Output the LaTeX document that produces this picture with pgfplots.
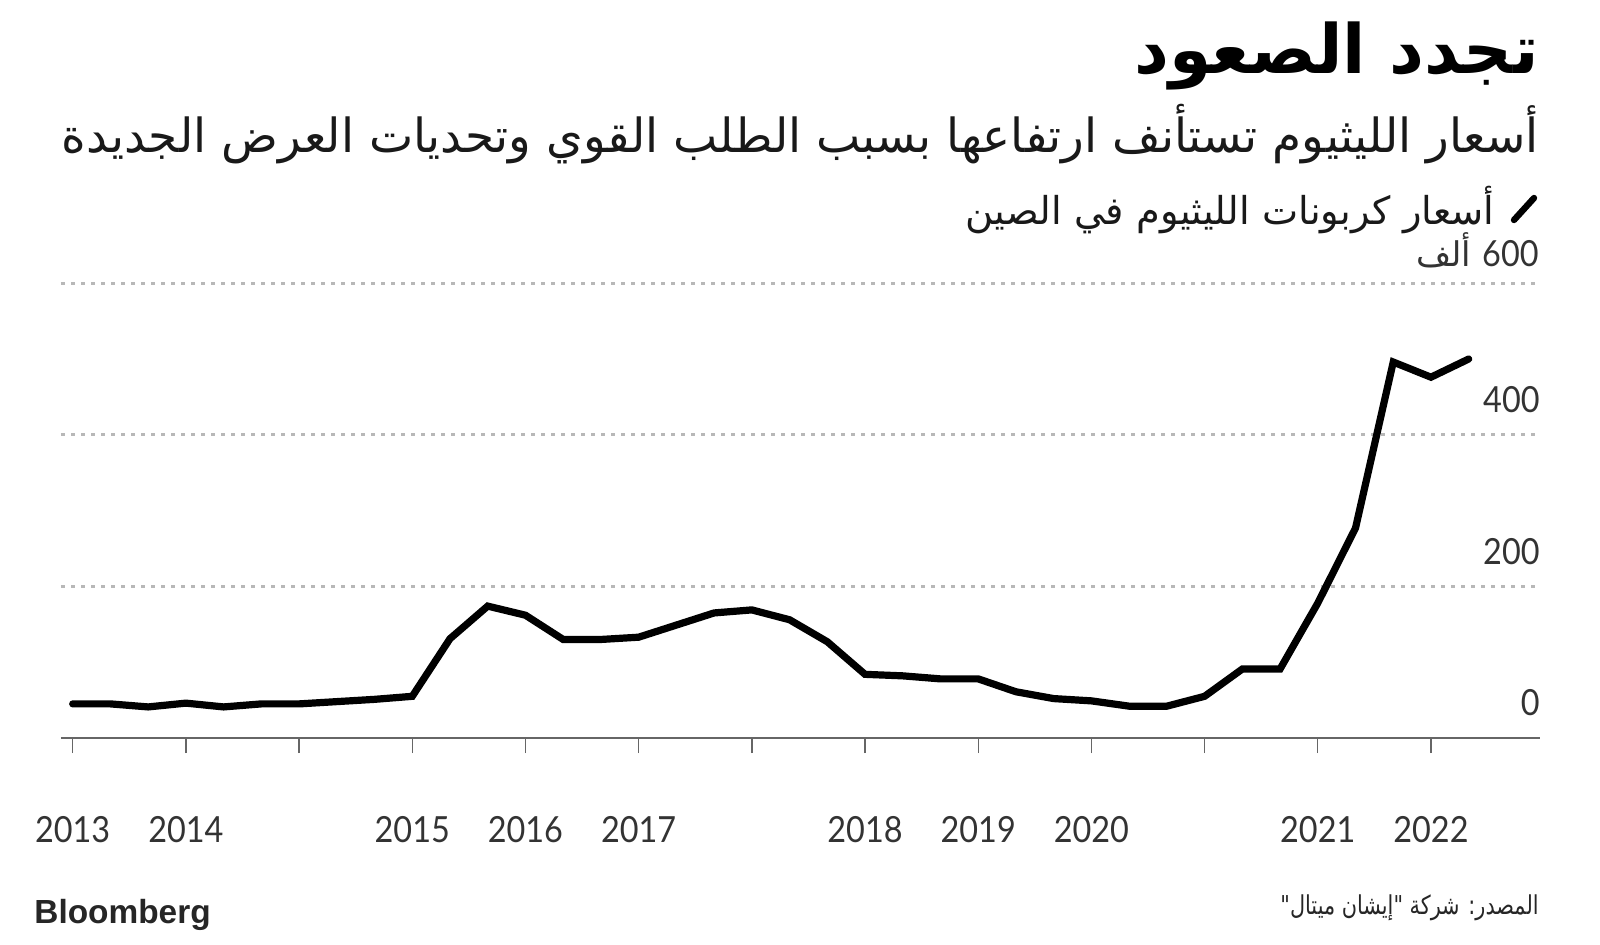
\documentclass[border=0pt]{standalone}
\usepackage{fontspec}
\usepackage{pgfplots}
\pgfplotsset{compat=1.18}
\TeXXeTstate=1
\setmainfont{Lato}
\newfontfamily\numfont[FakeStretch=0.9]{Lato}
\newfontfamily\arabicfont[Script=Arabic]{DejaVu Sans}
\newfontfamily\arabiccond[Script=Arabic,FakeStretch=0.8]{DejaVu Sans}
\newfontfamily\logofont{Liberation Sans}
\definecolor{gridgray}{HTML}{B8B8B8}
\definecolor{axisgray}{HTML}{666666}
\definecolor{labgray}{HTML}{333333}
\begin{document}
\begin{tikzpicture}
\useasboundingbox (0,0) rectangle (800pt,472pt);
\fill[white] (0,0) rectangle (800pt,472pt);
\begin{axis}[
  at={(30.5pt,103pt)}, anchor=south west,
  scale only axis, width=739.5pt, height=227.4pt,
  xmin=-0.31, xmax=38.89, ymin=0, ymax=600,
  axis x line=bottom, axis y line=left,
  x axis line style={-, draw=axisgray, line width=1pt},
  y axis line style={draw=none},
  xtick={0,3,...,36},
  xticklabels={2013,2014,,2015,2016,2017,,2018,2019,2020,,2021,2022},
  xtick align=outside,
  x tick style={draw=axisgray, line width=0.7pt},
  major tick length=7.5pt,
  xticklabel style={font=\numfont\fontsize{18}{20}\selectfont, text=labgray, anchor=north, yshift=-28pt},
  ytick={200,400,600}, yticklabels={},
  y tick style={draw=none},
  ymajorgrids,
  grid style={draw=gridgray, line width=1.4pt, dash pattern=on 2pt off 3pt},
  clip=false,
]
\addplot[black, line width=3.6pt, line join=miter, line cap=round] coordinates {
(0,45) (1,45) (2,41) (3,46) (4,41) (5,45) (6,45) (7,48) (8,51) (9,55)
(10,131) (11,174) (12,162) (13,130) (14,130) (15,133) (16,149) (17,165) (18,169) (19,156)
(20,127) (21,84) (22,82) (23,78) (24,78) (25,61) (26,52) (27,49) (28,42) (29,42)
(30,55) (31,91) (32,91) (33,178) (34,277) (35,496) (36,476) (37,500)
};
\node[anchor=east, inner sep=0pt, text=labgray, font=\numfont\fontsize{18}{20}\selectfont, yshift=17.5pt] at (axis cs:38.89,400) {400};
\node[anchor=east, inner sep=0pt, text=labgray, font=\numfont\fontsize{18}{20}\selectfont, yshift=17.5pt] at (axis cs:38.89,200) {200};
\node[anchor=east, inner sep=0pt, text=labgray, font=\numfont\fontsize{18}{20}\selectfont, yshift=17.5pt] at (axis cs:38.89,0) {0};
\end{axis}
% titles
\node[anchor=east, inner sep=0pt] at (769.5pt,444pt) {\arabicfont\bfseries\fontsize{34}{40}\selectfont\beginR تجدد الصعود\endR};
\node[anchor=east, inner sep=0pt, text=black!90] at (769.5pt,405pt) {\arabicfont\fontsize{23.5}{28}\selectfont\beginR أسعار الليثيوم تستأنف ارتفاعها بسبب الطلب القوي وتحديات العرض الجديدة\endR};
% legend
\draw[black, line width=3.2pt, line cap=round] (757pt,362pt) -- (767pt,373pt);
\node[anchor=east, inner sep=0pt, text=black!90] at (747.5pt,367pt) {\arabicfont\fontsize{19.2}{22}\selectfont\beginR أسعار كربونات الليثيوم في الصين\endR};
\node[anchor=east, inner sep=0pt, text=labgray] at (769.5pt,347pt) {\arabicfont\fontsize{17}{20}\selectfont\beginR{\numfont\fontsize{18}{20}\selectfont 600} ألف\endR};
% footer
\node[anchor=west, inner sep=0pt, text=black!85] at (17pt,14.5pt) {\logofont\bfseries\fontsize{16.7}{18}\selectfont Bloomberg};
\node[anchor=east, inner sep=0pt, text=black!85] at (769.5pt,18pt) {\arabiccond\fontsize{13}{15}\selectfont\beginR المصدر: شركة "إيشان ميتال"\endR};
\end{tikzpicture}
\end{document}
